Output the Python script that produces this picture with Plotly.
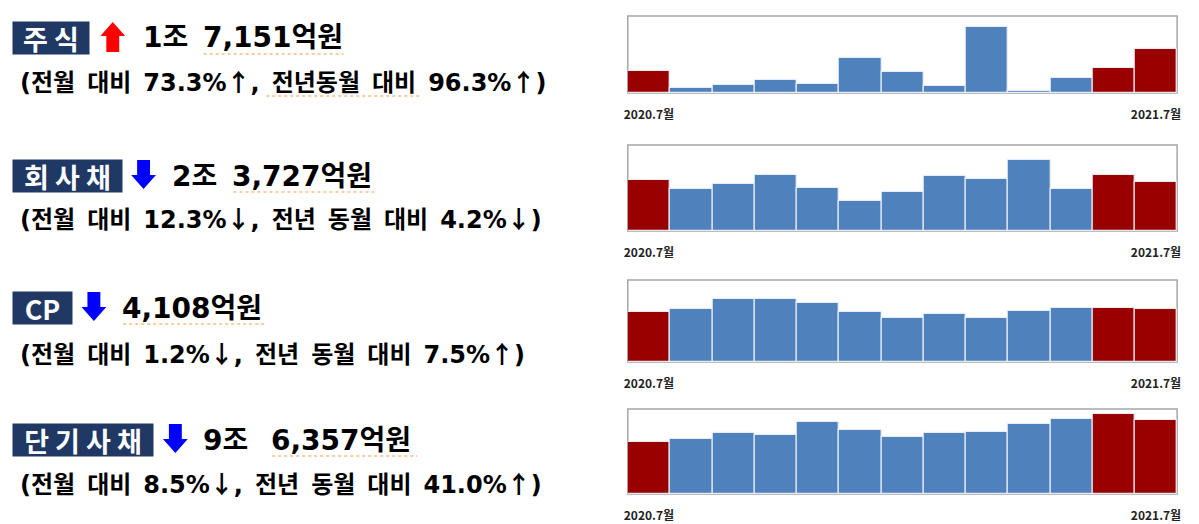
import plotly.graph_objects as go

W, H = 1199, 524

months = ["2020.7월", "2020.8월", "2020.9월", "2020.10월", "2020.11월", "2020.12월",
          "2021.1월", "2021.2월", "2021.3월", "2021.4월", "2021.5월", "2021.6월", "2021.7월"]

# 억원 (anchored by the quoted figures)
stock = [8737, 1964, 3142, 5237, 3535, 13747, 8117, 2618, 25792, 916, 5761, 9897, 17151]
corp_bond = [24767, 20175, 23080, 27115, 21143, 14526, 18722, 26792, 25340, 34378, 20498, 27055, 23727]
cp = [3821, 4108, 4874, 4874, 4517, 3853, 3343, 3700, 3394, 3955, 4160, 4158, 4108]
short_bond = [68338, 71940, 79352, 77608, 94176, 83276, 74556, 80224, 81096, 91124, 98536, 105308, 96357]

name_labels = ["주식", "회사채", "CP", "단기사채"]
directions = ["up", "down", "down", "down"]
amount_jo = ["1조", "2조", "", "9조"]
amount_eok = ["7,151억원", "3,727억원", "4,108억원", "6,357억원"]
details = ["(전월 대비 73.3%↑, 전년동월 대비 96.3%↑)",
           "(전월 대비 12.3%↓, 전년 동월 대비 4.2%↓)",
           "(전월 대비 1.2%↓, 전년 동월 대비 7.5%↑)",
           "(전월 대비 8.5%↓, 전년 동월 대비 41.0%↑)"]
series = [stock, corp_bond, cp, short_bond]
highlight = {months[0], months[-2], months[-1]}

# ---------------- layout / style ----------------
FONT_CJK = "Noto Sans CJK KR"
FONT_TXT = "DejaVu Sans, Noto Sans CJK KR"
RED_BAR, BLUE_BAR = "#990000", "#4f81bd"
NAVY = "#1f3864"
SQUIGGLE = "#f39c3c"
EN_SPACE = "\u2002"


def px(x):
    return x / W


def py(y):
    return 1 - y / H


def style_detail(s):
    s = s.replace(" ", EN_SPACE)
    for arr in "↑↓":
        s = s.replace(arr, f'<span style="font-family:{FONT_CJK}">{arr}</span>')
    return s


chart_x = (628, 1181)
chart_y = [(16, 93), (145, 231), (280, 362), (409, 494)]
y_max = [30240, 41800, 6300, 111200]

box_w = [76, 109, 59, 140]
box_center = [38, 176, 308, 440]
detail_center = [80, 218, 352, 482]
arrow_x = [97, 128, 78, 160]
jo_x = [143, 172, None, 203]
eok_x = [203, 233, 122, 272]
eok_end = [342, 373, 262, 416]
TEXT_PAD = 5

fig = go.Figure()
shapes, annotations = [], []

for i, vals in enumerate(series):
    k = "" if i == 0 else str(i + 1)
    colors = [RED_BAR if m in highlight else BLUE_BAR for m in months]
    fig.add_trace(go.Bar(
        x=months, y=vals, xaxis="x" + k, yaxis="y" + k,
        marker=dict(color=colors, line=dict(color="rgba(235,240,248,0.95)", width=1.2)),
        width=1.0, showlegend=False, hoverinfo="x+y"))
    y0, y1 = chart_y[i]
    fig.layout["xaxis" + k] = dict(
        domain=[px(chart_x[0]), px(chart_x[1])], anchor="y" + k, type="category",
        tickvals=[months[0], months[-1]], ticktext=[months[0], months[-1]],
        tickfont=dict(family=FONT_CJK, size=12, color="#222", weight="bold"),
        ticks="", ticklabelstandoff=13, showgrid=False, zeroline=False,
        showline=False, range=[-0.5, 12.5], fixedrange=True)
    fig.layout["yaxis" + k] = dict(
        domain=[py(y1), py(y0)], anchor="x" + k, range=[0, y_max[i]],
        showticklabels=False, showgrid=False, zeroline=False, showline=False,
        fixedrange=True)
    # frame
    shapes.append(dict(type="rect", xref=f"x{k} domain", yref=f"y{k} domain",
                       x0=0, x1=1, y0=0, y1=1, layer="below",
                       line=dict(color="#a6a6a6", width=1.5)))

    # ---- left text block ----
    c = box_center[i]
    label = name_labels[i]
    label = " ".join(list(label)) if all(ord(ch) > 0x3000 for ch in label) else label
    annotations.append(dict(
        x=px(8), y=py(c), xref="paper", yref="paper", xanchor="left", yanchor="middle",
        text=label, showarrow=False, bgcolor=NAVY, width=box_w[i], height=32, borderpad=0,
        align="center", valign="middle",
        font=dict(family=FONT_CJK, size=27, color="white", weight="bold")))
    ax = arrow_x[i]
    if directions[i] == "up":
        pts = [(ax + 12.5, c - 16), (ax + 25, c - 2), (ax + 19, c - 2), (ax + 19, c + 14),
               (ax + 6, c + 14), (ax + 6, c - 2), (ax, c - 2)]
        col = "#ff0000"
    else:
        pts = [(ax + 6, c - 16), (ax + 19, c - 16), (ax + 19, c - 1), (ax + 25, c - 1),
               (ax + 12.5, c + 13), (ax, c - 1), (ax + 6, c - 1)]
        col = "#0000ff"
    path = "M " + " L ".join(f"{px(a):.5f},{py(b):.5f}" for a, b in pts) + " Z"
    shapes.append(dict(type="path", xref="paper", yref="paper", path=path,
                       fillcolor=col, line=dict(width=0)))
    if amount_jo[i]:
        annotations.append(dict(
            x=px(jo_x[i] - TEXT_PAD), y=py(c), xref="paper", yref="paper", xanchor="left",
            yanchor="middle", text=amount_jo[i], showarrow=False,
            font=dict(family=FONT_TXT, size=28, color="black", weight="bold")))
    annotations.append(dict(
        x=px(eok_x[i] - TEXT_PAD), y=py(c), xref="paper", yref="paper", xanchor="left",
        yanchor="middle", text=amount_eok[i], showarrow=False,
        font=dict(family=FONT_TXT, size=28, color="black", weight="bold")))
    annotations.append(dict(
        x=px(14), y=py(detail_center[i]), xref="paper", yref="paper", xanchor="left",
        yanchor="middle", text=style_detail(details[i]), showarrow=False,
        font=dict(family=FONT_TXT, size=24, color="black", weight="bold")))
    # spell-check style dotted underline
    shapes.append(dict(type="line", xref="paper", yref="paper",
                       x0=px(eok_x[i] - 2), x1=px(eok_end[i]), y0=py(c + 16), y1=py(c + 16),
                       line=dict(color=SQUIGGLE, width=1.2, dash="dot")))

# extra underlines seen in the picture
shapes.append(dict(type="line", xref="paper", yref="paper", x0=px(264), x1=px(421),
                   y0=py(96), y1=py(96), line=dict(color=SQUIGGLE, width=1.2, dash="dot")))
shapes.append(dict(type="line", xref="paper", yref="paper", x0=px(12), x1=px(56),
                   y0=py(323), y1=py(323), line=dict(color=SQUIGGLE, width=1.2, dash="dot")))

fig.update_layout(
    width=W, height=H, margin=dict(l=0, r=0, t=0, b=0),
    paper_bgcolor="white", plot_bgcolor="white",
    bargap=0, shapes=shapes, annotations=annotations)

fig.write_html("out.html", config={"displayModeBar": False},
               post_script="document.body.style.margin='0';")
